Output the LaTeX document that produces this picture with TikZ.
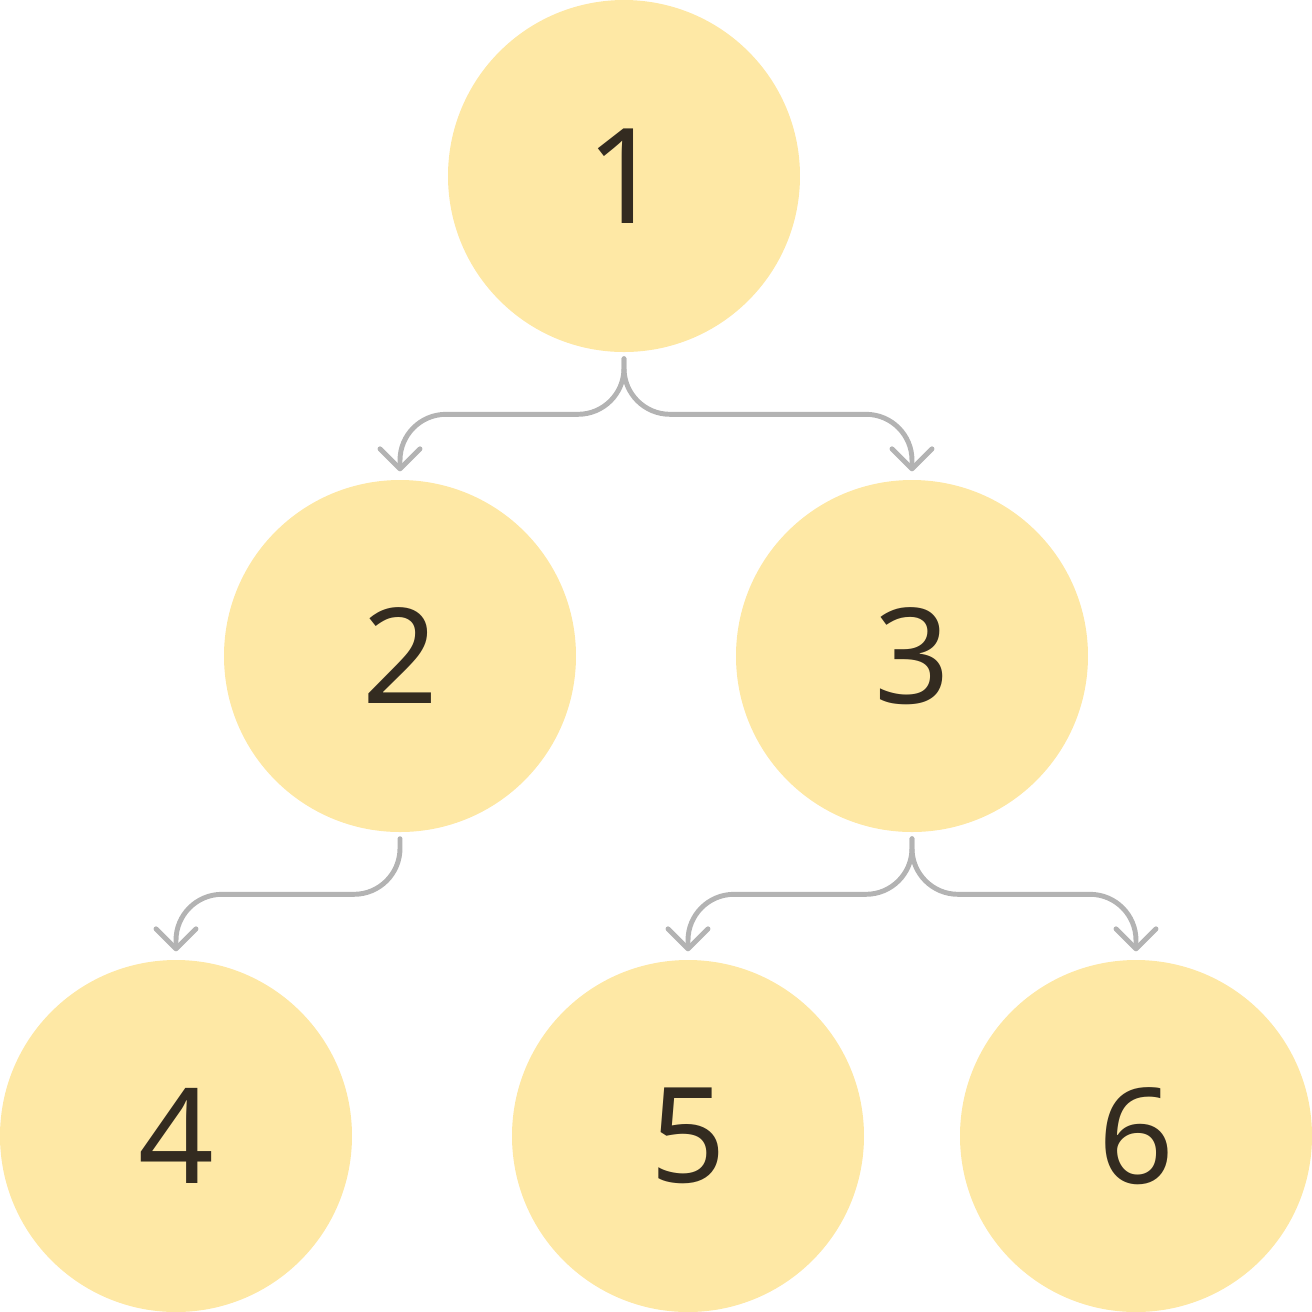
\documentclass[tikz,border=0pt]{standalone}
\usepackage{fontspec}
\setmainfont{Noto Sans}
\usetikzlibrary{arrows.meta}
\definecolor{nodefill}{HTML}{FEE8A5}
\definecolor{nodetext}{HTML}{332B20}
\definecolor{linkgray}{HTML}{B3B3B3}
\tikzset{
    treenode/.style={circle,fill=nodefill,text=nodetext,minimum size=3.52cm,inner sep=0pt,
        font=\fontsize{37.7}{40}\selectfont},
    link/.style={draw=linkgray,line width=1.4pt,line cap=round,rounded corners=0.46cm,
        -{Straight Barb[length=0.2cm,width=0.4cm,round]}}
}
\begin{document}
\begin{tikzpicture}
        \useasboundingbox (0,0) rectangle (13.12,-13.12);
        %% root
        \node[treenode] (n1) at (6.24,-1.76) {1};
        %% second level
        \node[treenode] (n2) at (4.00,-6.56) {2};
        \node[treenode] (n3) at (9.12,-6.56) {3};
        %% leaves
        \node[treenode] (n4) at (1.76,-11.36) {4};
        \node[treenode] (n5) at (6.88,-11.36) {5};
        \node[treenode] (n6) at (11.36,-11.36) {6};
        %% links
        \draw[link] ([yshift=-0.06cm]n1.south) |- ([yshift=0.65cm]n2.north) -- ([yshift=0.08cm]n2.north);
        \draw[link] ([yshift=-0.06cm]n1.south) |- ([yshift=0.65cm]n3.north) -- ([yshift=0.08cm]n3.north);
        \draw[link] ([yshift=-0.06cm]n2.south) |- ([yshift=0.65cm]n4.north) -- ([yshift=0.08cm]n4.north);
        \draw[link] ([yshift=-0.06cm]n3.south) |- ([yshift=0.65cm]n5.north) -- ([yshift=0.08cm]n5.north);
        \draw[link] ([yshift=-0.06cm]n3.south) |- ([yshift=0.65cm]n6.north) -- ([yshift=0.08cm]n6.north);
    \end{tikzpicture}
\end{document}
